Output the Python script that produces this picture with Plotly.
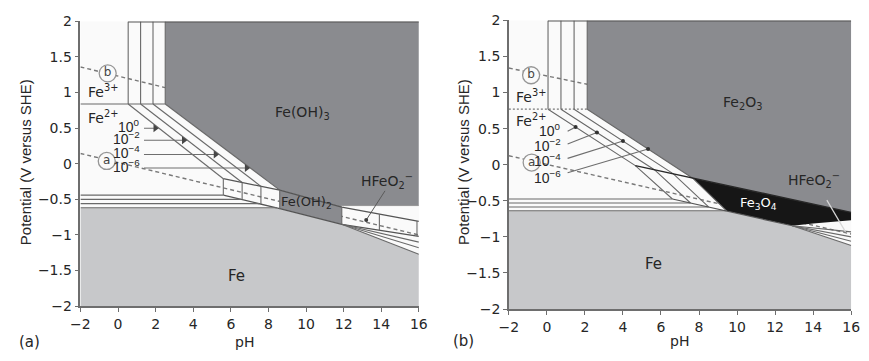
import numpy as np
import plotly.graph_objects as go

# ---------------- shared axis data ----------------
PH_RANGE = [-2, 16]
E_RANGE = [-2, 2]
PH_TICKS = [-2, 0, 2, 4, 6, 8, 10, 12, 14, 16]
E_TICKS = [-2, -1.5, -1, -0.5, 0, 0.5, 1, 1.5, 2]
CONC_TEXT = ["10<sup>0</sup>", "10<sup>−2</sup>", "10<sup>−4</sup>", "10<sup>−6</sup>"]

# ---------------- panel (a): Fe / Fe(OH)2 / Fe(OH)3 ----------------
A_FE3_FE2_E = 0.84                         # Fe3+/Fe2+ couple
A_FE3_PH = [0.54, 1.20, 1.86, 2.51]        # Fe3+/Fe(OH)3 boundaries (10^0 .. 10^-6)
A_BOX_PH = [5.6, 6.6, 7.6, 8.6]            # Fe2+/Fe(OH)2 boundaries
A_OX_PH = [5.6, 8.6, 11.9, 16.0]           # Fe(OH)3 / Fe(II) boundary
A_OX_E = [-0.21, -0.37, -0.608, -0.81]
A_RED_PH = [5.6, 8.6, 11.9, 16.0]          # Fe(II) / Fe boundary
A_RED_E = [-0.44, -0.63, -0.85, -1.02]
A_FE_E = [-0.44, -0.50, -0.56, -0.62]      # Fe2+/Fe lines
A_FE_END_PH = [5.6, 6.55, 7.5, 8.45]
A_HF_PH = [11.9, 13.9, 15.9]               # Fe(OH)2/HFeO2- boundaries
A_FAN_E = [-1.10, -1.18, -1.27]            # HFeO2-/Fe lines at pH 16
A_CUT_E = -0.587                           # Fe(OH)3/HFeO2- level
A_FE_TOP_E = -0.635
A_O2_PH = [-2, 2.51]; A_O2_E = [1.36, 1.07]
A_H2_PH = [-2, 16];   A_H2_E = [0.145, -1.0]
A_ARROW_E = [0.50, 0.33, 0.13, -0.06]
A_ARROW_START_PH = 1.38

# ---------------- panel (b): Fe / Fe3O4 / Fe2O3 ----------------
B_FE3_FE2_E = 0.77
B_FE3_PH = [0.06, 0.74, 1.43, 2.12]        # Fe3+/Fe2O3 boundaries
B_KINK_PH = [4.65, 5.65, 6.65, 7.65]       # Fe2+/Fe2O3 meets Fe2O3/Fe3O4
B_OX_PH = [4.65, 16.0]                     # Fe2O3/Fe3O4 line
B_OX_E = [-0.012, -0.66]
B_FE_E = [-0.475, -0.53, -0.585, -0.64]    # Fe2+/Fe lines
B_FE_END_PH = [6.6, 7.55, 8.5, 9.45]
B_RED_PH = [6.6, 9.45, 12.9]               # Fe3O4/Fe line
B_RED_E = [-0.475, -0.645, -0.846]
B_MAG_BOT_PH = [16.0, 15.0, 14.0, 12.9]    # lower edge of Fe3O4 field near pH 16
B_MAG_BOT_E = [-0.77, -0.79, -0.815, -0.846]
B_FAN_E = [-0.93, -1.0, -1.06, -1.12]      # HFeO2-/Fe lines at pH 16
B_FE_TOP_E = -0.655
B_O2_PH = [-2, 2.12]; B_O2_E = [1.34, 1.115]
B_H2_PH = [-2, 16];   B_H2_E = [0.125, -0.96]
B_ARROW_START_PH = 1.09
B_ARROW_START_E = [0.464, 0.287, 0.088, -0.111]
B_ARROW_END_PH = [1.51, 2.63, 4.0, 5.32]
B_LABEL_E = [0.475, 0.27, 0.07, -0.165]

# ---------------- styling ----------------
FONT = "DejaVu Sans, Verdana, sans-serif"
FONT_V = "Liberation Sans, Arial, sans-serif"
BG = "#fafafa"
DARK = "rgb(138,139,143)"
LIGHT = "rgb(199,200,202)"
BLACK = "rgb(22,22,22)"
LINE = "rgb(105,105,105)"
EDGE = "rgb(85,85,85)"
TXT = "#262626"

fig = go.Figure()


def poly(xs, ys, color, ax):
    fig.add_trace(go.Scatter(x=xs, y=ys, mode="lines", fill="toself", fillcolor=color,
                             line=dict(width=0, color=color), hoverinfo="skip",
                             showlegend=False, xaxis=ax[0], yaxis=ax[1]))


def line(xs, ys, ax, color=LINE, width=1.1, dash="solid"):
    fig.add_trace(go.Scatter(x=xs, y=ys, mode="lines", line=dict(color=color, width=width, dash=dash),
                             hoverinfo="skip", showlegend=False, xaxis=ax[0], yaxis=ax[1]))


def label(x, y, text, ax, size=14, color=TXT, xanchor="center", family=FONT):
    fig.add_annotation(x=x, y=y, xref=ax[0], yref=ax[1], text=text, showarrow=False,
                       xanchor=xanchor, yanchor="middle", font=dict(family=family, size=size, color=color))


def circle_tag(x, y, letter, ax):
    fig.add_trace(go.Scatter(x=[x], y=[y], mode="markers+text", text=[letter],
                             textposition="middle center",
                             textfont=dict(family=FONT, size=12, color="#444"),
                             marker=dict(size=17, color=BG, line=dict(color="rgb(150,150,150)", width=1.3)),
                             hoverinfo="skip", showlegend=False, xaxis=ax[0], yaxis=ax[1]))


AX_A = ("x", "y")
AX_B = ("x2", "y2")
DASH = "4px,3px"

# ======== panel (a) ========
line(A_O2_PH, A_O2_E, AX_A, color="rgb(120,120,120)", width=1.4, dash=DASH)
line(A_H2_PH, A_H2_E, AX_A, color="rgb(120,120,120)", width=1.4, dash=DASH)

a_ox_at = lambda p: float(np.interp(p, A_OX_PH, A_OX_E))
a_red_at = lambda p: float(np.interp(p, A_RED_PH, A_RED_E))
hf_start = A_HF_PH[0]

poly([A_FE3_PH[-1], 16, 16, hf_start, hf_start, A_BOX_PH[-1], A_FE3_PH[-1]],
     [2, 2, A_CUT_E, A_CUT_E, a_ox_at(hf_start), a_ox_at(A_BOX_PH[-1]), A_FE3_FE2_E], DARK, AX_A)
poly([A_BOX_PH[-1], hf_start, hf_start, A_BOX_PH[-1]],
     [a_ox_at(A_BOX_PH[-1]), a_ox_at(hf_start), a_red_at(hf_start), a_red_at(A_BOX_PH[-1])], DARK, AX_A)
poly([-2, A_BOX_PH[-1], hf_start, 16, 16, -2],
     [A_FE_TOP_E, A_FE_TOP_E, a_red_at(hf_start), A_FAN_E[-1], -2, -2], LIGHT, AX_A)

# Fe3+/Fe2+ and Fe3+/Fe(OH)3 boundaries
line([-2, A_FE3_PH[-1]], [A_FE3_FE2_E] * 2, AX_A)
for p in A_FE3_PH:
    line([p, p], [A_FE3_FE2_E, 2], AX_A)
# Fe2+/Fe(OH)3 boundaries
for p0, p1 in zip(A_FE3_PH, A_BOX_PH):
    line([p0, p1], [A_FE3_FE2_E, a_ox_at(p1)], AX_A)
# Fe(II) field edges
line(A_OX_PH, A_OX_E, AX_A, color=EDGE, width=1.3)
line(A_RED_PH, A_RED_E, AX_A, color=EDGE, width=1.3)
for p in A_BOX_PH + A_HF_PH:
    line([p, p], [a_ox_at(p), a_red_at(p)], AX_A)
line([hf_start, 16], [A_CUT_E, A_CUT_E], AX_A, color="rgb(150,150,150)", width=1)
for e in A_FAN_E:
    line([hf_start, 16], [a_red_at(hf_start), e], AX_A)
for e, p in zip(A_FE_E, A_FE_END_PH):
    line([-2, p], [e, e], AX_A)
line([A_FE3_PH[0], 16], [2, 2], AX_A, color=EDGE, width=2)

# concentration labels with arrows
for i, (txt, e) in enumerate(zip(CONC_TEXT, A_ARROW_E)):
    p_hit = float(np.interp(e, [a_ox_at(A_BOX_PH[i]), A_FE3_FE2_E], [A_BOX_PH[i], A_FE3_PH[i]]))
    line([A_ARROW_START_PH, p_hit - 0.2], [e, e], AX_A, color="rgb(110,110,110)", width=1.1)
    fig.add_trace(go.Scatter(x=[p_hit - 0.2], y=[e], mode="markers",
                             marker=dict(symbol="triangle-right", size=7, color="rgb(70,70,70)"),
                             hoverinfo="skip", showlegend=False, xaxis="x", yaxis="y"))
    label(A_ARROW_START_PH - 0.08, e + 0.03, txt, AX_A, size=14, xanchor="right", family=FONT_V)

circle_tag(-0.55, 1.27, "b", AX_A)
circle_tag(-0.6, 0.04, "a", AX_A)
label(-1.72, 1.02, "Fe<sup>3+</sup>", AX_A, xanchor="left")
label(-1.72, 0.65, "Fe<sup>2+</sup>", AX_A, xanchor="left")
label(9.83, 0.72, "Fe(OH)<sub>3</sub>", AX_A, size=14)
label(10.05, -0.55, "Fe(OH)<sub>2</sub>", AX_A, size=13)
label(14.3, -0.24, "HFeO<sub>2</sub><sup>−</sup>", AX_A, size=14)
label(6.3, -1.57, "Fe", AX_A, size=15)
line([14.2, 13.2], [-0.38, -0.79], AX_A, color="rgb(90,90,90)", width=1)
fig.add_trace(go.Scatter(x=[13.2], y=[-0.79], mode="markers",
                         marker=dict(symbol="circle", size=4, color="rgb(60,60,60)"),
                         hoverinfo="skip", showlegend=False, xaxis="x", yaxis="y"))

# ======== panel (b) ========
line(B_O2_PH, B_O2_E, AX_B, color="rgb(120,120,120)", width=1.4, dash=DASH)
line(B_H2_PH, B_H2_E, AX_B, color="rgb(120,120,120)", width=1.4, dash=DASH)

b_ox_at = lambda p: float(np.interp(p, B_OX_PH, B_OX_E))
b_red_at = lambda p: float(np.interp(p, B_RED_PH, B_RED_E))
mag_left = B_KINK_PH[-1]

poly([B_FE3_PH[-1], 16, 16, mag_left, B_FE3_PH[-1]],
     [2, 2, B_OX_E[-1], b_ox_at(mag_left), B_FE3_FE2_E], DARK, AX_B)
poly([mag_left, 16] + B_MAG_BOT_PH + [B_FE_END_PH[-1]],
     [b_ox_at(mag_left), B_OX_E[-1]] + B_MAG_BOT_E + [B_FE_E[-1]], BLACK, AX_B)
poly([-2, 9.6, B_RED_PH[-1], 16, 16, -2],
     [B_FE_TOP_E, B_FE_TOP_E, B_RED_E[-1], B_FAN_E[-1], -2, -2], LIGHT, AX_B)

line([-2, B_FE3_PH[-1]], [B_FE3_FE2_E] * 2, AX_B, color="rgb(120,120,120)", width=1.3, dash="2px,2px")
for p in B_FE3_PH:
    line([p, p], [B_FE3_FE2_E, 2], AX_B)
for p0, pk, pe, ee in zip(B_FE3_PH, B_KINK_PH, B_FE_END_PH, B_FE_E):
    line([p0, pk, pe], [B_FE3_FE2_E, b_ox_at(pk), ee], AX_B)
for e, p in zip(B_FE_E, B_FE_END_PH):
    line([-2, p], [e, e], AX_B)
line(B_OX_PH, B_OX_E, AX_B, color="rgb(40,40,40)", width=1.3)
line(B_RED_PH, B_RED_E, AX_B, color=EDGE, width=1.2)
for e in B_FAN_E:
    line([B_RED_PH[-1], 16], [B_RED_E[-1], e], AX_B)
line([B_FE3_PH[0], 16], [2, 2], AX_B, color=EDGE, width=2)

for i, (txt, e0, p1, el) in enumerate(zip(CONC_TEXT, B_ARROW_START_E, B_ARROW_END_PH, B_LABEL_E)):
    e1 = float(np.interp(p1, [B_FE3_PH[i], B_KINK_PH[i]], [B_FE3_FE2_E, b_ox_at(B_KINK_PH[i])]))
    line([B_ARROW_START_PH, p1], [e0, e1], AX_B, color="rgb(110,110,110)", width=1.1)
    fig.add_trace(go.Scatter(x=[p1], y=[e1], mode="markers",
                             marker=dict(symbol="circle", size=4, color="rgb(50,50,50)"),
                             hoverinfo="skip", showlegend=False, xaxis="x2", yaxis="y2"))
    label(0.85, el, txt, AX_B, size=14, xanchor="right", family=FONT_V)

circle_tag(-0.83, 1.24, "b", AX_B)
circle_tag(-0.80, 0.03, "a", AX_B)
label(-1.74, 0.95, "Fe<sup>3+</sup>", AX_B, xanchor="left")
label(-1.74, 0.62, "Fe<sup>2+</sup>", AX_B, xanchor="left")
label(10.26, 0.86, "Fe<sub>2</sub>O<sub>3</sub>", AX_B, size=14)
label(11.12, -0.54, "Fe<sub>3</sub>O<sub>4</sub>", AX_B, size=13, color="white")
label(14.05, -0.21, "HFeO<sub>2</sub><sup>−</sup>", AX_B, size=14)
label(5.63, -1.37, "Fe", AX_B, size=15)
line([14.72, 15.7], [-0.49, -0.93], AX_B, color="rgb(215,215,215)", width=1.2)

# ======== axes and titles ========
axis_common = dict(range=PH_RANGE, tickvals=PH_TICKS, showgrid=False, zeroline=False,
                   showline=True, linecolor="rgb(110,110,110)", linewidth=1.5,
                   ticks="outside", ticklen=4, tickcolor="rgb(110,110,110)",
                   tickfont=dict(family=FONT, size=14, color=TXT), fixedrange=True)
yaxis_common = dict(axis_common, range=E_RANGE, tickvals=E_TICKS)

fig.update_layout(
    width=869, height=361, margin=dict(l=0, r=0, t=0, b=0),
    paper_bgcolor="white", plot_bgcolor=BG, showlegend=False,
    xaxis=dict(axis_common, domain=[72 / 869, 418 / 869], anchor="y"),
    yaxis=dict(yaxis_common, domain=[49 / 361, 347 / 361], anchor="x"),
    xaxis2=dict(axis_common, domain=[510 / 869, 860 / 869], anchor="y2"),
    yaxis2=dict(yaxis_common, domain=[46 / 361, 348 / 361], anchor="x2"),
)

for xp, yp, txt, ang, fam, sz in [
    (16 / 869, 0.552, "Potential (V versus SHE)", -90, FONT_V, 15),
    (463 / 869, 0.553, "Potential (V versus SHE)", -90, FONT_V, 15),
    (240 / 869, 0.032, "pH", 0, FONT, 14),
    (684 / 869, 0.035, "pH", 0, FONT, 14),
    (20 / 869, 0.032, "(a)", 0, FONT, 15),
    (464 / 869, 0.035, "(b)", 0, FONT, 15),
]:
    fig.add_annotation(x=xp, y=yp, xref="paper", yref="paper", text=txt, showarrow=False,
                       textangle=ang, xanchor="center", yanchor="middle",
                       font=dict(family=fam, size=sz, color=TXT))

fig.write_html("out.html")
